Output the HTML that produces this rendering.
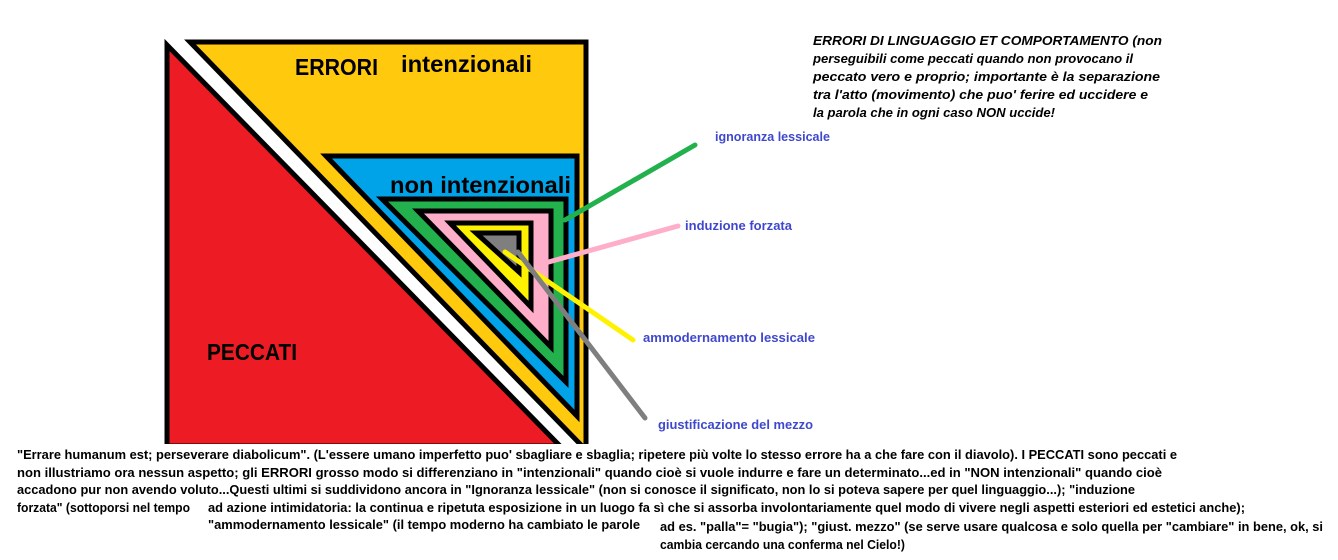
<!DOCTYPE html>
<html><head><meta charset="utf-8"><style>
html,body{margin:0;padding:0;background:#fff;width:1338px;height:560px;overflow:hidden}
svg{display:block}
.b{font-family:"Liberation Sans",sans-serif;font-weight:bold}
.t{font-family:"Liberation Sans",sans-serif;font-size:13px;font-weight:bold;fill:#000}
.l{font-family:"Liberation Sans",sans-serif;font-size:13px;font-weight:bold;fill:#3f48cc}
.i{font-family:"Liberation Sans",sans-serif;font-size:13px;font-style:italic;font-weight:bold;fill:#000}
</style></head><body>
<svg width="1338" height="560" viewBox="0 0 1338 560" xmlns="http://www.w3.org/2000/svg">
<polygon points="167,45 167,446 560,446" fill="#ed1c24" stroke="#000" stroke-width="5"/>
<polygon points="190,42 586,42 586,446 582,446" fill="#ffc90e" stroke="#000" stroke-width="5"/>
<rect x="160" y="444" width="440" height="20" fill="#fff"/>
<polygon points="326,156 577,156 577,416" fill="#00a2e8" stroke="#000" stroke-width="5"/>
<polygon points="382,199 566,199 566,382" fill="#22b14c" stroke="#000" stroke-width="5"/>
<polygon points="418,211 551,211 551,347" fill="#ffaec9" stroke="#000" stroke-width="5"/>
<polygon points="450,223 531,223 531,307" fill="#fff200" stroke="#000" stroke-width="5"/>
<polygon points="476,233 519,233 519,272" fill="#7f7f7f" stroke="#000" stroke-width="5"/>
<line x1="565" y1="220" x2="695" y2="145" stroke="#22b14c" stroke-width="5" stroke-linecap="round"/>
<line x1="545" y1="263" x2="678" y2="226" stroke="#ffaec9" stroke-width="5" stroke-linecap="round"/>
<line x1="505" y1="252" x2="633" y2="340" stroke="#fff200" stroke-width="5" stroke-linecap="round"/>
<line x1="518" y1="252" x2="645" y2="418" stroke="#7f7f7f" stroke-width="5" stroke-linecap="round"/>
<text x="295" y="75" class="b" font-size="23" textLength="83" lengthAdjust="spacingAndGlyphs">ERRORI</text>
<text x="401" y="72" class="b" font-size="23" textLength="131" lengthAdjust="spacingAndGlyphs">intenzionali</text>
<text x="390" y="193" class="b" font-size="23" textLength="181" lengthAdjust="spacingAndGlyphs">non intenzionali</text>
<text x="207" y="360" class="b" font-size="23" textLength="90" lengthAdjust="spacingAndGlyphs">PECCATI</text>
<text x="715" y="141" class="l" textLength="115" lengthAdjust="spacingAndGlyphs">ignoranza lessicale</text>
<text x="685" y="230" class="l" textLength="107" lengthAdjust="spacingAndGlyphs">induzione forzata</text>
<text x="643" y="342" class="l" textLength="172" lengthAdjust="spacingAndGlyphs">ammodernamento lessicale</text>
<text x="658" y="429" class="l" textLength="155" lengthAdjust="spacingAndGlyphs">giustificazione del mezzo</text>
<text x="813" y="45" class="i" textLength="349" lengthAdjust="spacingAndGlyphs">ERRORI DI LINGUAGGIO ET COMPORTAMENTO (non</text>
<text x="813" y="63" class="i" textLength="320" lengthAdjust="spacingAndGlyphs">perseguibili come peccati quando non provocano il</text>
<text x="813" y="81" class="i" textLength="347" lengthAdjust="spacingAndGlyphs">peccato vero e proprio; importante è la separazione</text>
<text x="813" y="99" class="i" textLength="335" lengthAdjust="spacingAndGlyphs">tra l'atto (movimento) che puo' ferire ed uccidere e</text>
<text x="813" y="117" class="i" textLength="242" lengthAdjust="spacingAndGlyphs">la parola che in ogni caso NON uccide!</text>
<text x="17" y="459" class="t" textLength="1160" lengthAdjust="spacingAndGlyphs">"Errare humanum est; perseverare diabolicum". (L'essere umano imperfetto puo' sbagliare e sbaglia; ripetere più volte lo stesso errore ha a che fare con il diavolo). I PECCATI sono peccati e</text>
<text x="17" y="477" class="t" textLength="1145" lengthAdjust="spacingAndGlyphs">non illustriamo ora nessun aspetto; gli ERRORI grosso modo si differenziano in "intenzionali" quando cioè si vuole indurre e fare un determinato...ed in "NON intenzionali" quando cioè</text>
<text x="17" y="494" class="t" textLength="1118" lengthAdjust="spacingAndGlyphs">accadono pur non avendo voluto...Questi ultimi si suddividono ancora in "Ignoranza lessicale" (non si conosce il significato, non lo si poteva sapere per quel linguaggio...); "induzione</text>
<text x="17" y="512" class="t" textLength="173" lengthAdjust="spacingAndGlyphs">forzata" (sottoporsi nel tempo</text>
<text x="208" y="512" class="t" textLength="1037" lengthAdjust="spacingAndGlyphs">ad azione intimidatoria: la continua e ripetuta esposizione in un luogo fa sì che si assorba involontariamente quel modo di vivere negli aspetti esteriori ed estetici anche);</text>
<text x="208" y="529" class="t" textLength="432" lengthAdjust="spacingAndGlyphs">"ammodernamento lessicale" (il tempo moderno ha cambiato le parole</text>
<text x="660" y="531" class="t" textLength="663" lengthAdjust="spacingAndGlyphs">ad es. "palla"= "bugia"); "giust. mezzo" (se serve usare qualcosa e solo quella per "cambiare" in bene, ok, si</text>
<text x="660" y="549" class="t" textLength="245" lengthAdjust="spacingAndGlyphs">cambia cercando una conferma nel Cielo!)</text>
</svg>
</body></html>
